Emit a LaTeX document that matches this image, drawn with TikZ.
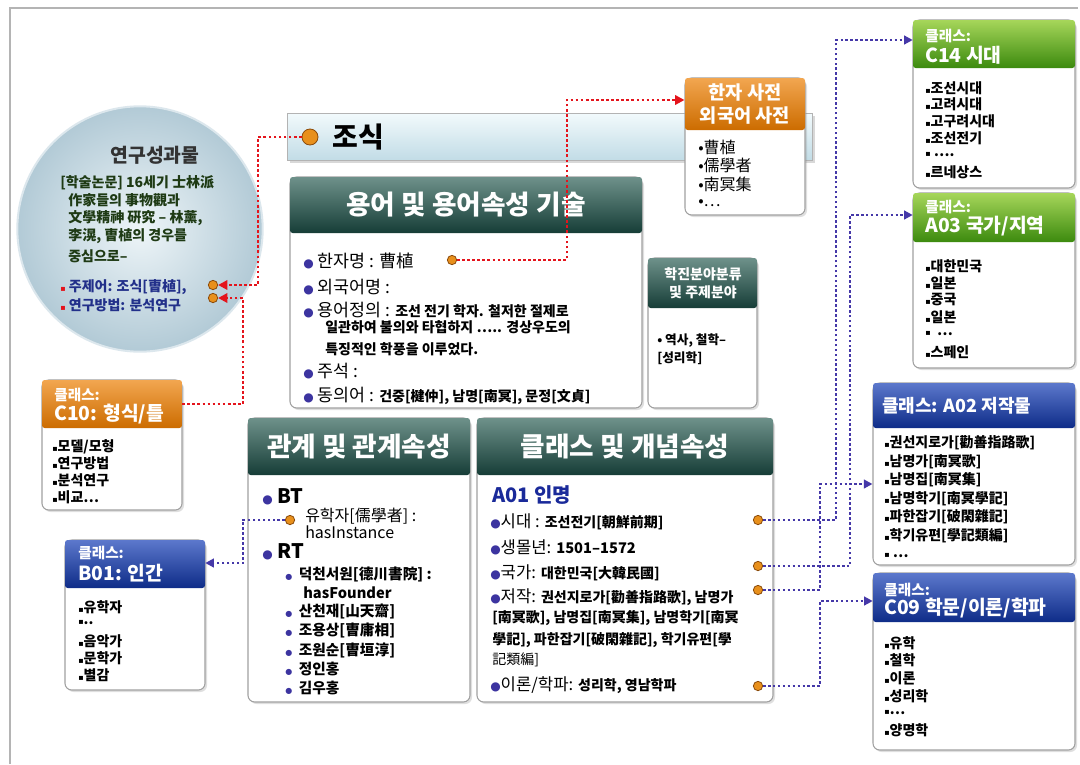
\documentclass[tikz,border=0pt]{standalone}
\usepackage{fontspec}
\setmainfont{Noto Sans CJK KR}
\newfontfamily\dejavu{DejaVu Sans}
\usetikzlibrary{arrows.meta,shadows,fit,calc}
\definecolor{tealL}{HTML}{6E918A}
\definecolor{tealD}{HTML}{1D4C45}
\definecolor{tealDD}{HTML}{163D37}
\definecolor{orL}{HTML}{F2A650}
\definecolor{orM}{HTML}{E07A08}
\definecolor{orD}{HTML}{CC6C00}
\definecolor{grL}{HTML}{A6D65A}
\definecolor{grM}{HTML}{5EA81C}
\definecolor{grD}{HTML}{3C8A0E}
\definecolor{blL}{HTML}{5C78CC}
\definecolor{blM}{HTML}{1C3CA0}
\definecolor{blD}{HTML}{0E2C88}
\definecolor{redc}{HTML}{E4141C}
\definecolor{bluec}{HTML}{4538A8}
\definecolor{bul}{HTML}{3C34A0}
\definecolor{dotO}{HTML}{E8901C}
\definecolor{dotB}{HTML}{8A4A0A}
\definecolor{txtG}{HTML}{1E3A14}
\definecolor{txtB}{HTML}{22308A}
\definecolor{a01}{HTML}{1A2A9A}
\definecolor{barT}{HTML}{F2FAFC}
\definecolor{barB}{HTML}{C2DCE6}
\definecolor{circI}{HTML}{EEF5F8}
\definecolor{circO}{HTML}{B2CAD6}
\definecolor{framec}{HTML}{B4B4B4}
\definecolor{boxline}{HTML}{A0A0A0}
\newcommand\fsz[1]{\fontsize{#1}{#1}\selectfont}
\newcommand\bl{\textcolor{bul}{\dejavu\fsz{9}●}}
\newcommand\sbl{\textcolor{bul}{\dejavu\fsz{6}●}}
\newcommand\sq{{\dejavu\fsz{6}▪}}
\tikzset{
  boxbody/.style={draw=boxline, line width=0.8pt, fill=white, rounded corners=5pt, inner sep=0pt,
    drop shadow={opacity=0.25, shadow xshift=1.5pt, shadow yshift=-1.5pt}},
  tealhead/.style={inner sep=0pt, rounded corners=2pt, top color=tealL, middle color=tealD, bottom color=tealDD},
  orhead/.style={inner sep=0pt, rounded corners=2pt, top color=orL, middle color=orM, bottom color=orD},
  grhead/.style={inner sep=0pt, rounded corners=2pt, top color=grL, middle color=grM, bottom color=grD},
  blhead/.style={inner sep=0pt, rounded corners=2pt, top color=blL, middle color=blM, bottom color=blD},
  htext/.style={text=white, font=\bfseries\fsz{20}, inner sep=0pt},
  ctext/.style={text=white, font=\bfseries\fsz{11}, inner sep=0pt, anchor=west},
  ntext/.style={text=white, font=\bfseries\fsz{14.5}, inner sep=0pt, anchor=west},
  li/.style={anchor=west, inner sep=0pt, font=\bfseries\fsz{10.5}},
  tx/.style={anchor=west, inner sep=0pt, font=\fsz{13}},
  odot/.style={circle, fill=dotO, draw=dotB, line width=0.6pt, minimum size=7pt, inner sep=0pt},
  redline/.style={draw=redc, line width=2pt, dash pattern=on 2pt off 1.8pt, -{Triangle[length=7pt,width=7pt]}},
  blueline/.style={draw=bluec, line width=1.9pt, dash pattern=on 1.9pt off 1.8pt, -{Triangle[length=6.5pt,width=6.5pt]}},
}
\begin{document}
\begin{tikzpicture}[x=0.75pt,y=-0.75pt]
\useasboundingbox[fill=white] (0,0) rectangle (1080,764);
\draw[framec, line width=0.8pt] (10,764) -- (10,8) -- (1078,8);

% ---- circle
\node[circle, minimum size=184pt, inner sep=0pt, inner color=circI, outer color=circO,
  draw=white!55!circO, line width=1.5pt] (circ) at (140,229) {};
\node[inner sep=0pt, font=\bfseries\fsz{14.5}, text=black!80] (cTitle) at (155,155) {연구성과물};
\begin{scope}[every node/.style={anchor=west, inner sep=0pt, font=\bfseries\fsz{10.5}, text=txtG}]
\node (cL1) at (60,183) {[학술논문] 16세기 士林派};
\node (cL2) at (68,200) {作家들의 事物觀과};
\node (cL3) at (68,218) {文學精神 硏究 – 林薰,};
\node (cL4) at (68,236) {李滉, 曺植의 경우를};
\node (cL5) at (68,256) {중심으로–};
\end{scope}
\node[anchor=west, inner sep=0pt, font=\bfseries\fsz{10.5}, text=txtB] (cK1) at (60,287) {\textcolor{redc}{\sq} 주제어: 조식[曺植],};
\node[anchor=west, inner sep=0pt, font=\bfseries\fsz{10.5}, text=txtB] (cK2) at (60,305) {\textcolor{redc}{\sq} 연구방법: 분석연구};
\node[odot] (dTopic) at (213,285) {};
\node[odot] (dMethod) at (213,298) {};

% ---- 조식 bar
\node[fit={(287,113) (812,160)}, inner sep=0pt, draw=boxline!80, line width=0.6pt, top color=barT, bottom color=barB,
  drop shadow={opacity=0.3, shadow xshift=2pt, shadow yshift=-2pt}] (bar) {};
\node[odot, minimum size=12pt] (dJosik) at (310,137) {};
\node[anchor=west, inner sep=0pt, font=\bfseries\fsz{21}] (josik) at (332,137) {조식};

% ---- 한자 사전 box
\node[boxbody, fit={(685,78) (805,215)}] (hanja) {};
\node[orhead, fit={(685,78) (805,130)}] (hanjaH) {};
\node[text=white, font=\bfseries\fontsize{14}{17}\selectfont, align=center, inner sep=0pt] (hanjaT) at (745,104) {한자 사전\\외국어 사전};
\node[li, font=\fsz{12}] (hj1) at (698,147) {•曹植};
\node[li, font=\fsz{12}] (hj2) at (698,165) {•儒學者};
\node[li, font=\fsz{12}] (hj3) at (698,184) {•南冥集};
\node[li, font=\fsz{12}] (hj4) at (698,203) {•…};

% ---- 용어 box
\node[boxbody, fit={(290,177) (642,408)}] (term) {};
\node[tealhead, fit={(290,177) (642,233)}] (termH) {};
\node[htext] (termT) at (466,205) {용어 및 용어속성 기술};
\node[tx] (t1) at (303,261) {\bl\ 한자명 : 曹植};
\node[tx] (t2) at (303,287) {\bl\ 외국어명 :};
\node[tx] (t3) at (303,310) {\bl\ 용어정의 : {\bfseries\fsz{10.5}조선 전기 학자. 철저한 절제로}};
\node[tx, font=\bfseries\fsz{10.5}] (t4) at (325,327) {일관하여 불의와 타협하지 ….. 경상우도의};
\node[tx, font=\bfseries\fsz{10.5}] (t5) at (325,349) {특징적인 학풍을 이루었다.};
\node[tx] (t6) at (303,371) {\bl\ 주석 :};
\node[tx] (t7) at (303,396) {\bl\ 동의어 : {\bfseries\fsz{10.5}건중[楗仲], 남명[南冥], 문정[文貞]}};
\node[odot] (dHanja) at (452,260) {};

% ---- 학진분야 box
\node[boxbody, fit={(648,258) (757,408)}] (field) {};
\node[tealhead, fit={(648,258) (757,308)}] (fieldH) {};
\node[text=white, font=\bfseries\fontsize{10.5}{13.5}\selectfont, align=center, inner sep=0pt] (fieldT) at (703,283) {학진분야분류\\및 주제분야};
\node[li, font=\bfseries\fsz{9.5}] (f1) at (657,341) {• 역사, 철학–};
\node[li, font=\bfseries\fsz{9.5}] (f2) at (657,358) {[성리학]};

% ---- 관계 box
\node[boxbody, fit={(248,418) (470,702)}] (rel) {};
\node[tealhead, fit={(248,418) (470,475)}] (relH) {};
\node[htext] (relT) at (359,447) {관계 및 관계속성};
\node[tx, font=\bfseries\fsz{15}] (rBT) at (262,497) {\bl\ BT};
\node[odot] (dBT) at (290,520) {};
\node[tx, font=\fsz{12}] (r1) at (305,516) {유학자[儒學者] :};
\node[tx, font=\fsz{12}] (r2) at (305,532) {hasInstance};
\node[tx, font=\bfseries\fsz{15}] (rRT) at (262,552) {\bl\ RT};
\begin{scope}[every node/.style={anchor=west, inner sep=0pt, font=\bfseries\fsz{11}}]
\node (r3) at (285,574) {\sbl\ \ 덕천서원[德川書院] :};
\node (r4) at (303,593) {hasFounder};
\node (r5) at (285,611) {\sbl\ \ 산천재[山天齋]};
\node (r6) at (285,630) {\sbl\ \ 조용상[曺庸相]};
\node (r7) at (285,650) {\sbl\ \ 조원순[曺垣淳]};
\node (r8) at (285,669) {\sbl\ \ 정인홍};
\node (r9) at (285,688) {\sbl\ \ 김우홍};
\end{scope}

% ---- 클래스 box
\node[boxbody, fit={(477,418) (773,702)}] (cls) {};
\node[tealhead, fit={(477,418) (773,475)}] (clsH) {};
\node[htext] (clsT) at (625,447) {클래스 및 개념속성};
\node[tx, font=\bfseries\fsz{15}, text=a01] (k0) at (492,495) {A01 인명};
\begin{scope}[every node/.style={anchor=west, inner sep=0pt, font=\fsz{12.5}}]
\node (k1t) at (490,522) {\bl 시대 : {\bfseries\fsz{10.5}조선전기[朝鮮前期]}};
\node (k2t) at (490,547) {\bl 생몰년: {\bfseries\fsz{11}1501–1572}};
\node (k3t) at (490,573) {\bl 국가: {\bfseries\fsz{10.5}대한민국[大韓民國]}};
\node (k4t) at (490,597) {\bl 저작: {\bfseries\fsz{10.5}권선지로가[勸善指路歌], 남명가}};
\node (k5t) at (492,618) {\bfseries\fsz{10.5}[南冥歌], 남명집[南冥集], 남명학기[南冥};
\node (k6t) at (492,640) {\bfseries\fsz{10.5}學記], 파한잡기[破閑雜記], 학기유편[學};
\node (k7t) at (492,660) {\fsz{10.5}記類編]};
\node (k8t) at (490,685) {\bl 이론/학파: {\bfseries\fsz{10.5}성리학, 영남학파}};
\end{scope}
\node[odot] (dEra) at (758,520) {};
\node[odot] (dNation) at (758,566) {};
\node[odot] (dWork) at (758,590) {};
\node[odot] (dTheory) at (758,686) {};

% ---- C10 box
\node[boxbody, fit={(42,380) (182,510)}] (c10) {};
\node[orhead, fit={(42,380) (182,428)}] (c10h) {};
\node[ctext] (c10a) at (54,395) {클래스:};
\node[ntext] (c10b) at (54,414) {C10: 형식/틀};
\node[li] (c10i1) at (52,447) {\sq 모델/모형};
\node[li] (c10i2) at (52,463) {\sq 연구방법};
\node[li] (c10i3) at (52,480) {\sq 분석연구};
\node[li] (c10i4) at (52,497) {\sq 비교…};

% ---- B01 box
\node[boxbody, fit={(65,540) (205,690)}] (b01) {};
\node[blhead, fit={(65,540) (205,588)}] (b01h) {};
\node[ctext] (b01a) at (78,553) {클래스:};
\node[ntext] (b01b) at (78,573) {B01: 인간};
\node[li] (b01i1) at (78,607) {\sq 유학자};
\node[li] (b01i2) at (78,623) {\sq ..};
\node[li] (b01i3) at (78,641) {\sq 음악가};
\node[li] (b01i4) at (78,658) {\sq 문학가};
\node[li] (b01i5) at (78,675) {\sq 별감};

% ---- C14 box
\node[boxbody, fit={(913,20) (1075,188)}] (c14) {};
\node[grhead, fit={(913,20) (1075,68)}] (c14h) {};
\node[ctext] (c14a) at (925,36) {클래스:};
\node[ntext] (c14b) at (925,55) {C14 시대};
\node[li] (c14i1) at (925,88) {\sq 조선시대};
\node[li] (c14i2) at (925,104) {\sq 고려시대};
\node[li] (c14i3) at (925,121) {\sq 고구려시대};
\node[li] (c14i4) at (925,138) {\sq 조선전기};
\node[li] (c14i5) at (925,155) {\sq\ ….};
\node[li] (c14i6) at (925,172) {\sq 르네상스};

% ---- A03 box
\node[boxbody, fit={(913,193) (1075,368)}] (a03) {};
\node[grhead, fit={(913,193) (1075,242)}] (a03h) {};
\node[ctext] (a03a) at (925,207) {클래스:};
\node[ntext] (a03b) at (925,226) {A03 국가/지역};
\node[li] (a03i1) at (925,266) {\sq 대한민국};
\node[li] (a03i2) at (925,283) {\sq 일본};
\node[li] (a03i3) at (925,300) {\sq 중국};
\node[li] (a03i4) at (925,317) {\sq 일본};
\node[li] (a03i5) at (925,334) {\sq\ \ …};
\node[li] (a03i6) at (925,352) {\sq 스페인};

% ---- A02 box
\node[boxbody, fit={(873,383) (1075,565)}] (a02) {};
\node[blhead, fit={(873,383) (1075,428)}] (a02h) {};
\node[ntext, font=\bfseries\fsz{13.5}] (a02a) at (882,406) {클래스: A02 저작물};
\node[li] (a02i1) at (884,443) {\sq 권선지로가[勸善指路歌]};
\node[li] (a02i2) at (884,462) {\sq 남명가[南冥歌]};
\node[li] (a02i3) at (884,480) {\sq 남명집[南冥集]};
\node[li] (a02i4) at (884,499) {\sq 남명학기[南冥學記]};
\node[li] (a02i5) at (884,517) {\sq 파한잡기[破閑雜記]};
\node[li] (a02i6) at (884,536) {\sq 학기유편[學記類編]};
\node[li] (a02i7) at (884,556) {\sq\ …};

% ---- C09 box
\node[boxbody, fit={(873,573) (1075,750)}] (c09) {};
\node[blhead, fit={(873,573) (1075,622)}] (c09h) {};
\node[ctext] (c09a) at (884,590) {클래스:};
\node[ntext] (c09b) at (884,608) {C09 학문/이론/학파};
\node[li] (c09i1) at (884,643) {\sq 유학};
\node[li] (c09i2) at (884,660) {\sq 철학};
\node[li] (c09i3) at (884,678) {\sq 이론};
\node[li] (c09i4) at (884,696) {\sq 성리학};
\node[li] (c09i5) at (884,713) {\sq …};
\node[li] (c09i6) at (884,730) {\sq 양명학};

% ---- connectors
\coordinate (k1) at (567,100);
\coordinate (k2) at (258,285);
\coordinate (k3) at (243,298);
\coordinate (k4) at (243,563);
\coordinate (k5) at (836,40);
\coordinate (k6) at (850,215);
\coordinate (k7) at (820,484);
\coordinate (k8) at (820,601);
\draw[redline] (dHanja.east) -| (k1) -- (hanja.west |- k1);
\draw[redline] (dJosik.west) -| (k2) -- (dTopic.east);
\draw[redline] (c10h.east) -| (k3) -- (dMethod.east);
\draw[blueline] (dBT.west) -| (k4) -- (b01h.east |- k4);
\draw[blueline] (dEra.east) -| (k5) -- (c14h.west |- k5);
\draw[blueline] (dNation.east) -| (k6) -- (a03h.west |- k6);
\draw[blueline] (dWork.east) -| (k7) -- (a02.west |- k7);
\draw[blueline] (dTheory.east) -| (k8) -- (c09h.west |- k8);
\end{tikzpicture}
\end{document}
